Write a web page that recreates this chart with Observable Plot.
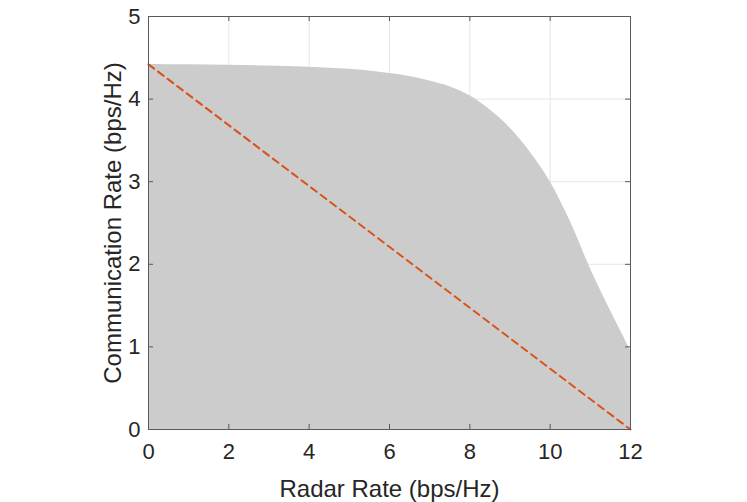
<!DOCTYPE html>
<html>
<head>
<meta charset="utf-8">
<script src="https://cdn.jsdelivr.net/npm/d3@7"></script>
<script src="https://cdn.jsdelivr.net/npm/@observablehq/plot@0.6"></script>
<style>
  html, body { margin: 0; padding: 0; background: #ffffff; }
  #chart svg { display: block; }
</style>
</head>
<body>
<div id="chart"></div>
<script>
// ---- data ----
const xTicks = [0, 2, 4, 6, 8, 10, 12];
const yTicks = [0, 1, 2, 3, 4, 5];

// boundary of the achievable region
const radarRate = [0, 1, 2, 3, 4, 5, 5.5, 6, 6.5, 7, 7.5, 8, 8.5, 9, 9.5, 10, 10.5, 11, 11.5, 12];
const commRate  = [4.42, 4.415, 4.41, 4.40, 4.385, 4.36, 4.34, 4.31, 4.275, 4.22, 4.15, 4.04, 3.87, 3.65, 3.36, 3.0, 2.52, 1.95, 1.44, 0.96];

// dashed time-sharing line
const tsRadar = [0, 12];
const tsComm  = [4.42, 0];

const xLabel = "Radar Rate (bps/Hz)";
const yLabel = "Communication Rate (bps/Hz)";

// ---- build ----
const region = radarRate.map((x, i) => ({x, y: commRate[i]}));
const tsLine = tsRadar.map((x, i) => ({x, y: tsComm[i]}));

const W = 747, H = 502;
const mL = 148, mR = 117, mT = 16, mB = 73;
const pw = W - mL - mR, ph = H - mT - mB;
const tickPx = 5;
const xLen = tickPx * 12 / pw;
const yLen = tickPx * 5 / ph;
const ink = "#262626";
const boxColor = "#5a5a5a";

const chart = Plot.plot({
  width: W,
  height: H,
  marginLeft: mL,
  marginRight: mR,
  marginTop: mT,
  marginBottom: mB,
  style: {fontFamily: "'Liberation Sans', Arial, Helvetica, sans-serif", color: ink, background: "#ffffff", overflow: "visible"},
  x: {domain: [0, 12]},
  y: {domain: [0, 5]},
  marks: [
    Plot.gridX(xTicks, {stroke: "#e6e6e6", strokeOpacity: 1}),
    Plot.gridY(yTicks, {stroke: "#e6e6e6", strokeOpacity: 1}),
    Plot.areaY(region, {x: "x", y: "y", fill: "#cccccc", curve: "catmull-rom"}),
    Plot.line(tsLine, {x: "x", y: "y", stroke: "#D95319", strokeWidth: 2, strokeDasharray: "7,5"}),
    // inward ticks on all four sides
    Plot.ruleX(xTicks, {x: d => d, y1: 0, y2: yLen, stroke: boxColor}),
    Plot.ruleX(xTicks, {x: d => d, y1: 5 - yLen, y2: 5, stroke: boxColor}),
    Plot.ruleY(yTicks, {y: d => d, x1: 0, x2: xLen, stroke: boxColor}),
    Plot.ruleY(yTicks, {y: d => d, x1: 12 - xLen, x2: 12, stroke: boxColor}),
    Plot.frame({stroke: boxColor, strokeWidth: 1}),
    Plot.axisX(xTicks, {tickSize: 0, tickPadding: 14, fontSize: 22, label: null, fill: ink, tickFormat: d => String(d)}),
    Plot.axisY(yTicks, {tickSize: 0, tickPadding: 8, fontSize: 22, label: null, fill: ink, tickFormat: d => String(d)}),
    Plot.text([xLabel], {frameAnchor: "bottom", dy: 67, lineAnchor: "bottom", fontSize: 24, fill: ink, text: d => d}),
    Plot.text([yLabel], {frameAnchor: "left", textAnchor: "middle", dx: -28, rotate: -90, lineAnchor: "bottom", fontSize: 24, fill: ink, text: d => d, lineWidth: Infinity})
  ]
});
document.getElementById("chart").appendChild(chart);
</script>
</body>
</html>
